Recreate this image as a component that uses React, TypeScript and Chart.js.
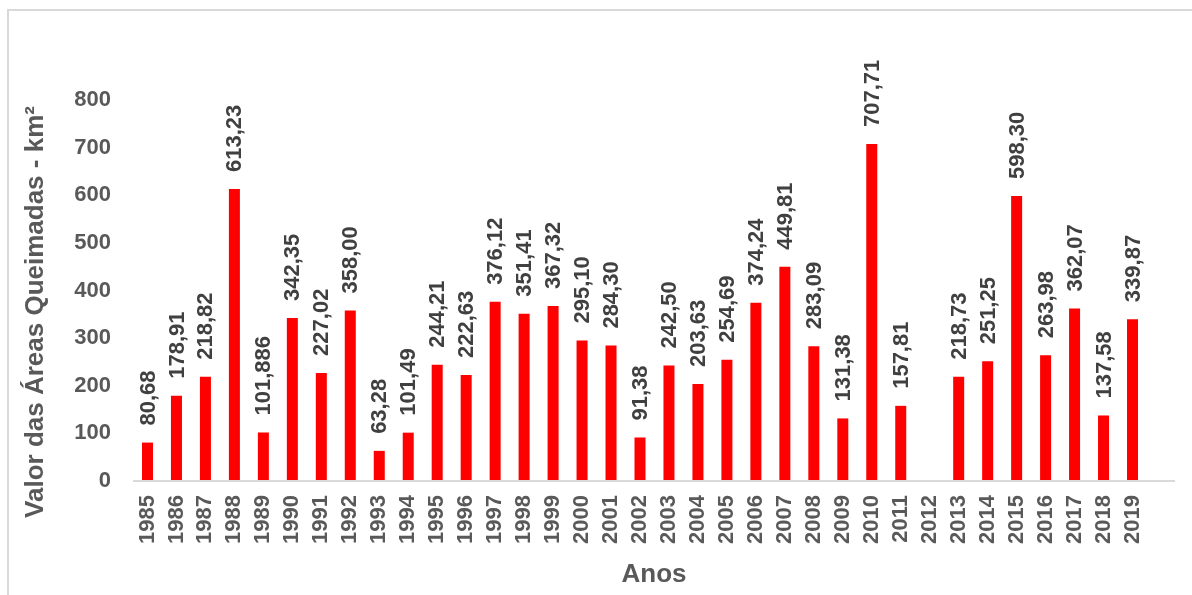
import React, { useEffect, useRef } from "react";
import { Chart, registerables } from "chart.js";

Chart.register(...registerables);

const years: string[] = [
  "1985", "1986", "1987", "1988", "1989", "1990", "1991", "1992", "1993", "1994",
  "1995", "1996", "1997", "1998", "1999", "2000", "2001", "2002", "2003", "2004",
  "2005", "2006", "2007", "2008", "2009", "2010", "2011", "2012", "2013", "2014",
  "2015", "2016", "2017", "2018", "2019",
];

// Burned area per year (km²); 2012 has no record
const burnedArea: (number | null)[] = [
  80.68, 178.91, 218.82, 613.23, 101.886, 342.35, 227.02, 358.0, 63.28, 101.49,
  244.21, 222.63, 376.12, 351.41, 367.32, 295.1, 284.3, 91.38, 242.5, 203.63,
  254.69, 374.24, 449.81, 283.09, 131.38, 707.71, 157.81, null, 218.73, 251.25,
  598.3, 263.98, 362.07, 137.58, 339.87,
];

const yTitle = "Valor das Áreas Queimadas - km²";
const xTitle = "Anos";

const FONT = "'Liberation Sans', Arial, sans-serif";
const GRAY = "#595959";

// Brazilian-style number: decimal comma, at least two decimals
function fmt(v: number): string {
  const [i, d = ""] = String(v).split(".");
  return i + "," + d.padEnd(2, "0");
}

const decorations = {
  id: "decorations",
  afterDatasetsDraw(chart: any) {
    const { ctx, chartArea } = chart;
    ctx.save();
    // baseline axis
    ctx.strokeStyle = "#d9d9d9";
    ctx.lineWidth = 2;
    ctx.beginPath();
    ctx.moveTo(chartArea.left, chartArea.bottom);
    ctx.lineTo(chartArea.right + 28, chartArea.bottom);
    ctx.stroke();

    // value labels above bars
    const meta = chart.getDatasetMeta(0);
    ctx.fillStyle = "#404040";
    ctx.font = `bold 22px ${FONT}`;
    ctx.textAlign = "left";
    ctx.textBaseline = "middle";
    meta.data.forEach((bar: any, i: number) => {
      const v = burnedArea[i];
      if (v == null) return;
      ctx.save();
      ctx.translate(bar.x, bar.y - 17);
      ctx.rotate(-Math.PI / 2);
      ctx.fillText(fmt(v), 0, 1);
      ctx.restore();
    });

    // axis titles
    ctx.fillStyle = GRAY;
    ctx.font = `bold 26px ${FONT}`;
    ctx.textAlign = "center";
    ctx.textBaseline = "alphabetic";
    ctx.fillText(xTitle, 654, 582);
    ctx.save();
    ctx.translate(43, 312);
    ctx.rotate(-Math.PI / 2);
    ctx.fillText(yTitle, 0, 0);
    ctx.restore();
    ctx.restore();
  },
};

export default function App() {
  const canvasRef = useRef<HTMLCanvasElement | null>(null);

  useEffect(() => {
    if (!canvasRef.current) return;
    const chart = new Chart(canvasRef.current, {
      type: "bar",
      data: {
        labels: years,
        datasets: [
          {
            data: burnedArea,
            backgroundColor: "#ff0000",
            barPercentage: 0.38,
            categoryPercentage: 1,
          },
        ],
      },
      options: {
        responsive: true,
        maintainAspectRatio: false,
        animation: false,
        layout: { padding: { left: 0, right: 45, top: 100, bottom: 0 } },
        plugins: {
          legend: { display: false },
          tooltip: { enabled: false },
        },
        scales: {
          x: {
            grid: { display: false, drawTicks: false },
            border: { display: false },
            ticks: {
              color: GRAY,
              font: { family: FONT, size: 22, weight: "bold" },
              minRotation: 90,
              maxRotation: 90,
              autoSkip: false,
              padding: 14,
            },
            afterFit: (s: any) => {
              s.height = 114;
            },
          },
          y: {
            min: 0,
            max: 800,
            grid: { display: false, drawTicks: false },
            border: { display: false },
            ticks: {
              stepSize: 100,
              color: GRAY,
              font: { family: FONT, size: 22, weight: "bold" },
              padding: 22,
            },
            afterFit: (s: any) => {
              s.width = 133;
            },
          },
        },
      },
      plugins: [decorations],
    });
    return () => chart.destroy();
  }, []);

  return (
    <div style={{ position: "fixed", left: 0, top: 0, width: 1192, height: 595, background: "#fff" }}>
      <div
        style={{
          position: "absolute",
          left: 7,
          top: 9,
          width: 1200,
          height: 600,
          borderLeft: "2px solid #d9d9d9",
          borderTop: "2px solid #d9d9d9",
        }}
      />
      <canvas ref={canvasRef} style={{ position: "absolute", left: 0, top: 0 }} />
    </div>
  );
}
